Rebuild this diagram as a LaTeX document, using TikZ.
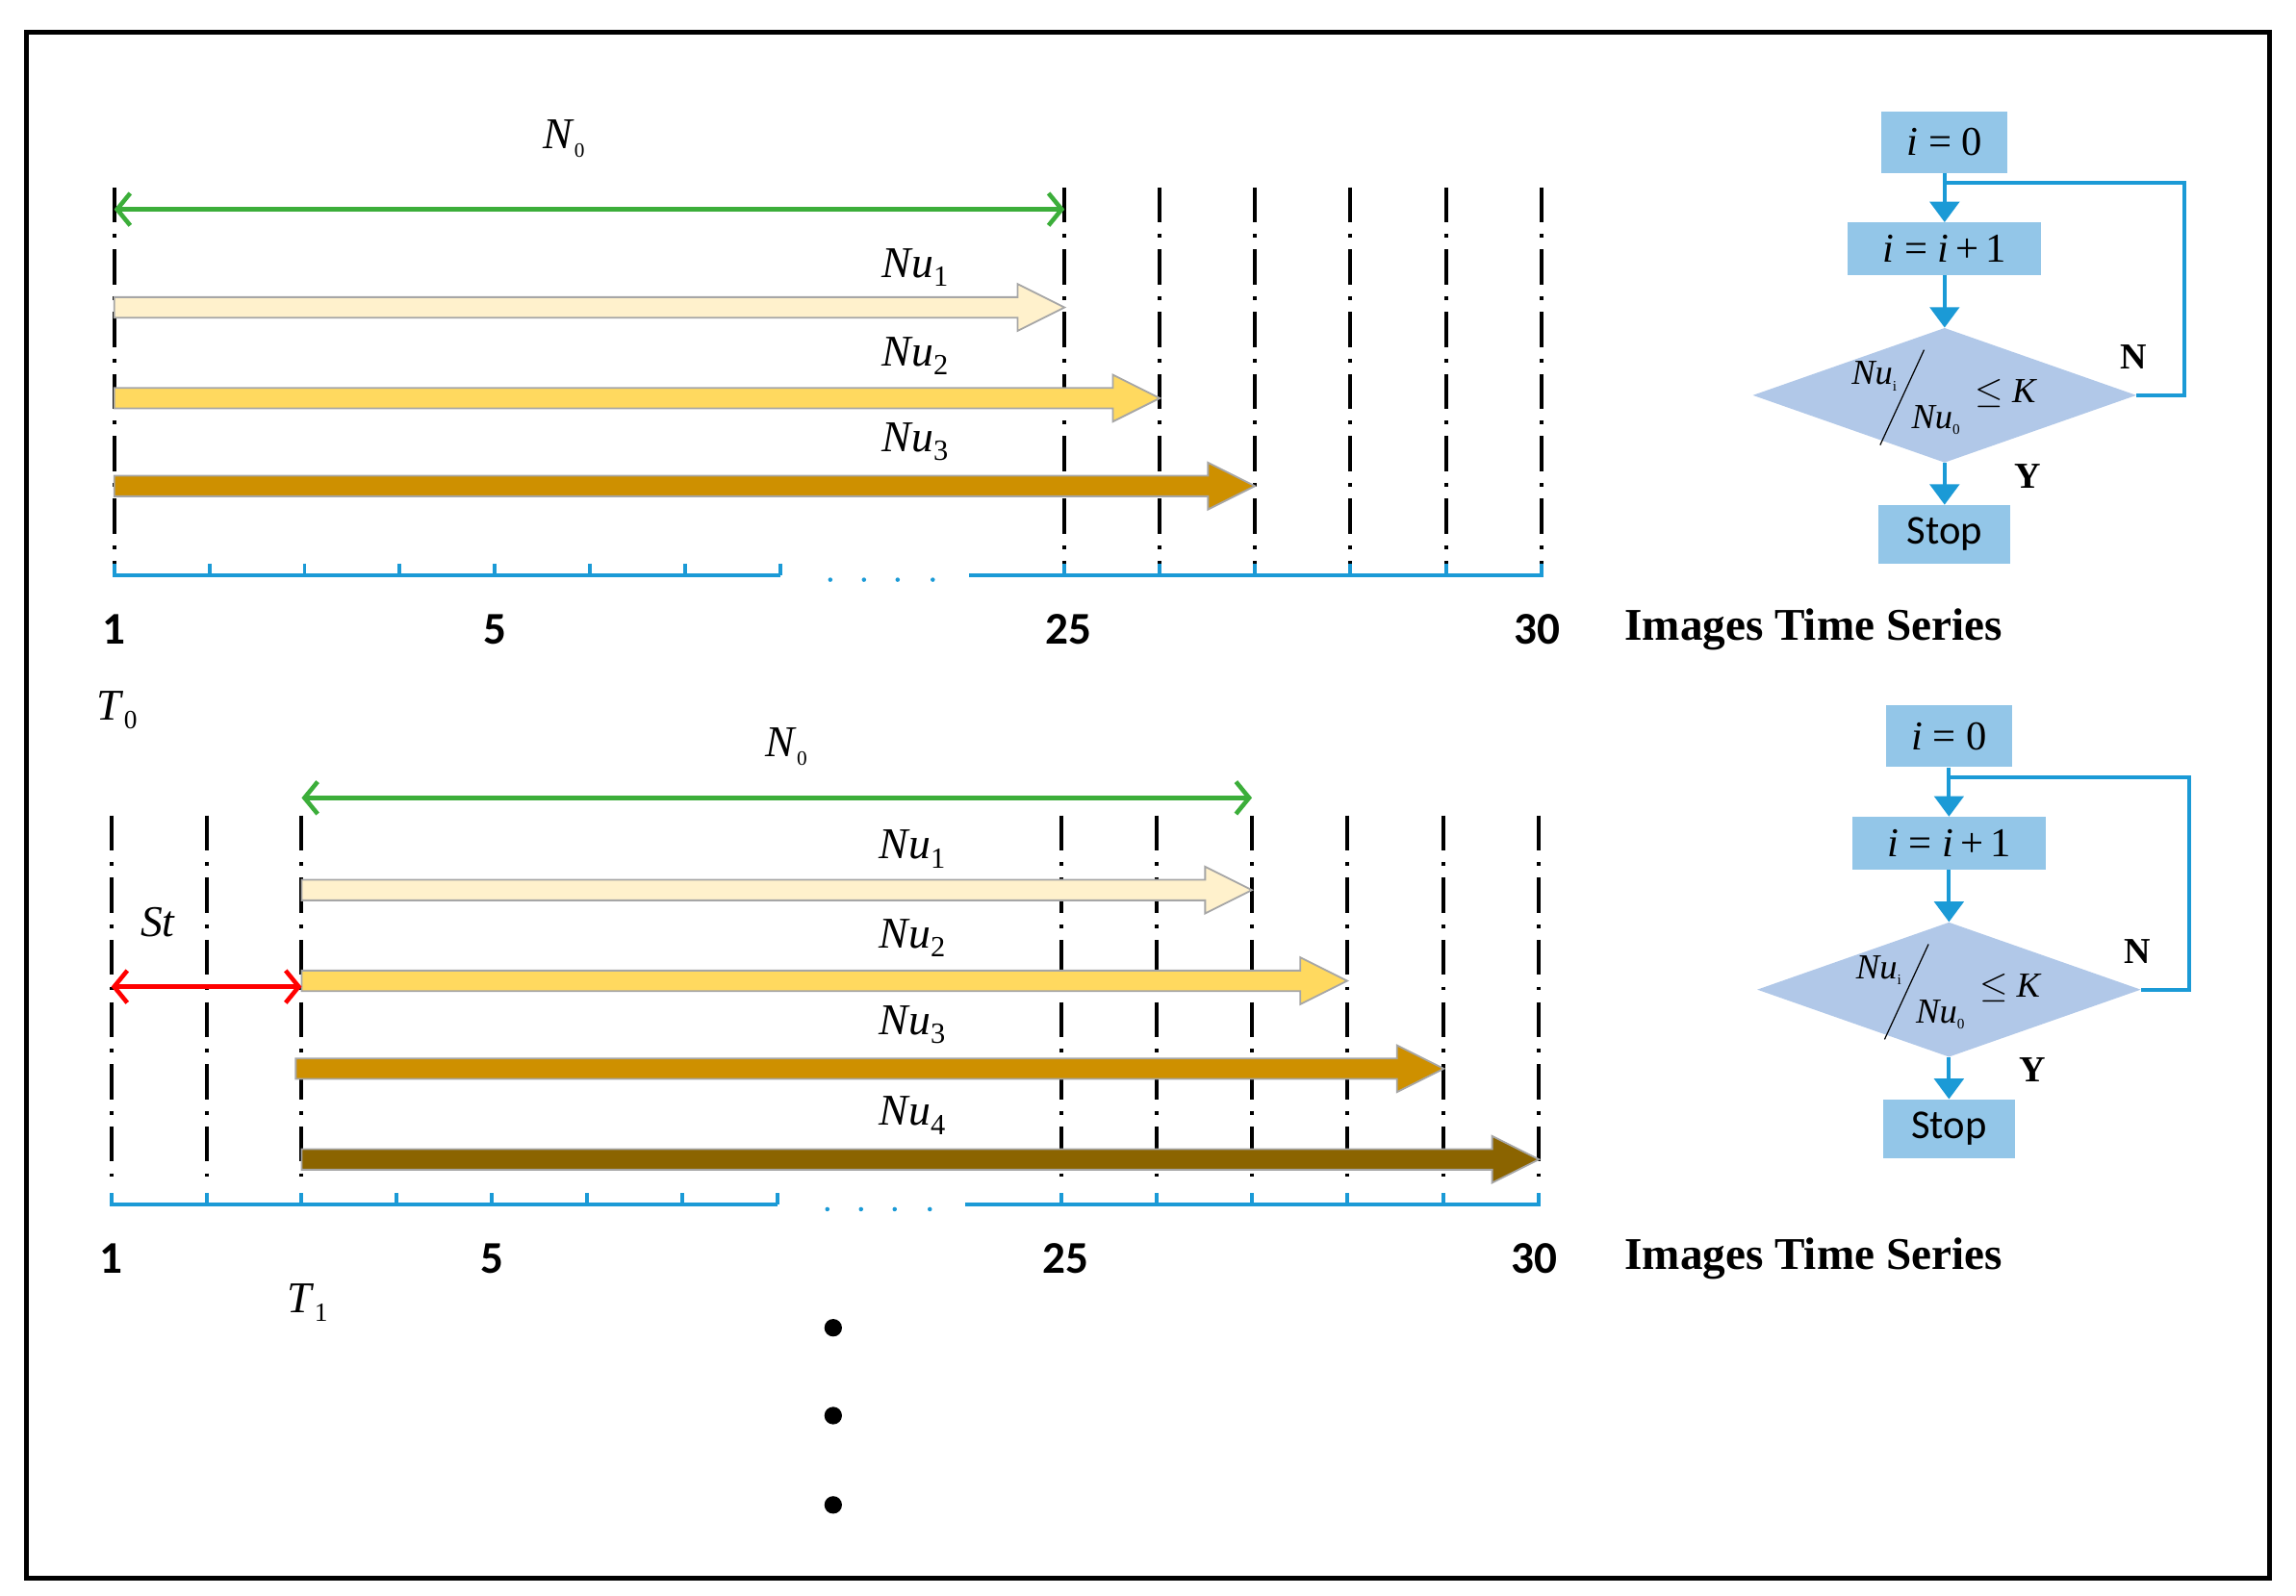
\documentclass[tikz,border=0pt]{standalone}
\usepackage{fontspec}
\setmainfont{Liberation Serif}
\newfontfamily\numf{Carlito}
\usetikzlibrary{arrows.meta,shapes.geometric}
\definecolor{axb}{HTML}{1B9AD6}
\definecolor{boxb}{HTML}{93C6E8}
\definecolor{diab}{HTML}{B1C8E8}
\definecolor{grn}{HTML}{3CAE3A}
\definecolor{cA}{HTML}{FFF1CC}
\definecolor{cB}{HTML}{FFD95F}
\definecolor{cC}{HTML}{CE9000}
\definecolor{cD}{HTML}{8B6400}
\newcommand{\barrow}[4]{%
 \fill[#4,draw=gray!70,line width=1.2pt] (#1,#3-7) -- (#2-32,#3-7) -- (#2-32,#3-16) -- (#2,#3) -- (#2-32,#3+16) -- (#2-32,#3+7) -- (#1,#3+7) -- cycle;}
\tikzset{
 dd/.style={line width=2.6pt,dash pattern=on 24pt off 8pt on 2.5pt off 8pt},
 ax/.style={axb,line width=2.6pt},
 num/.style={font=\numf\bfseries\fontsize{31}{31}\selectfont},
 its/.style={font=\bfseries\fontsize{31}{31}\selectfont,anchor=west},
 lab/.style={font=\fontsize{30}{30}\selectfont},
 dim/.style={line width=3pt,{Straight Barb[length=9pt,width=22pt]}-{Straight Barb[length=9pt,width=22pt]}},
 box/.style={fill=boxb,minimum height=#1,inner sep=0pt,font=\fontsize{28}{28}\selectfont},
 fl/.style={axb,line width=2.6pt},
 fa/.style={fl,-{Triangle[length=14pt,width=20pt]}},
 yn/.style={font=\bfseries\fontsize{25}{25}\selectfont},
}
\newcommand{\flow}[2]{%
 \begin{scope}[shift={(#1,#2)}]
 \node[box=42pt,minimum width=86pt] (a#2) at (0,0) {\textit{i} = 0};
 \node[box=36pt,minimum width=132pt] (b#2) at (0,73) {\textit{i} = \textit{i}\,+\,1};
 \node[diamond,aspect=2.85,fill=diab,minimum width=262pt,minimum height=92pt,inner sep=0pt] (c#2) at (0,173) {};
 \node[box=40pt,minimum width=90pt,font=\numf\fontsize{28}{28}\selectfont] (d#2) at (0,268) {Stop};
 \node[font=\fontsize{24}{24}\selectfont] (n1#2) at (-48,160) {\textit{Nu}\raisebox{-4pt}{\fontsize{10}{10}\selectfont i}};
 \node[font=\fontsize{24}{24}\selectfont] (n0#2) at (-6,190) {\textit{Nu}\raisebox{-4pt}{\fontsize{10}{10}\selectfont 0}};
 \draw[line width=0.8pt] (-14,142) -- (-44,207);
 \node[font=\fontsize{24}{24}\selectfont] (k#2) at (42,172) {$\leq$ \textit{K}};
 \coordinate (r#2) at (164,173);
 \coordinate (t#2) at (164,28);
 \coordinate (m#2) at (0,28);
 \draw[fa] (a#2) -- (b#2);
 \draw[fa] (b#2) -- (c#2);
 \draw[fa] (c#2) -- (d#2);
 \draw[fl] (c#2.east) -- (r#2) -- (t#2) -- (m#2);
 \node[yn] (N#2) at (129,147) {N};
 \node[yn] (Y#2) at (57,228) {Y};
 \end{scope}}
\begin{document}
\begin{tikzpicture}[x=1pt,y=-1pt]
\useasboundingbox (0,0) rectangle (1568,1090);
\draw[line width=3pt] (18,22) rectangle (1550,1078);
% ---------- top panel
\foreach \x in {78,727,792,857,922,988,1053} \draw[dd] (\x,128) -- (\x,385);
\draw[ax] (78,385) -- (78,393) -- (533,393);
\foreach \x in {143,208,273,338,403,468,533} \draw[ax] (\x,385) -- (\x,393);
\draw[ax] (662,393) -- (1053,393) -- (1053,385);
\foreach \x in {727,792,857,922,988} \draw[ax] (\x,385) -- (\x,393);
\foreach \x in {567,590,613,637} \fill[axb] (\x,396) circle (1.5pt);
\node[num] (t1) at (78,430) {1};
\node[num] (t5) at (338,430) {5};
\node[num] (t25) at (730,430) {25};
\node[num] (t30) at (1050,430) {30};
\node[its] (its1) at (1106,430) {Images Time Series};
\coordinate (g1) at (78,143); \coordinate (g2) at (727,143);
\draw[dim,grn] (g1) -- (g2);
\node[lab] (N0a) at (385,95) {\textit{N}\raisebox{-6pt}{\fontsize{14}{14}\selectfont 0}};
\barrow{78}{727}{210}{cA}
\barrow{78}{792}{272}{cB}
\barrow{78}{857}{332}{cC}
\node[lab] (u1) at (625,183) {\textit{Nu}\raisebox{-6pt}{\fontsize{20}{20}\selectfont 1}};
\node[lab] (u2) at (625,243) {\textit{Nu}\raisebox{-6pt}{\fontsize{20}{20}\selectfont 2}};
\node[lab] (u3) at (625,302) {\textit{Nu}\raisebox{-6pt}{\fontsize{20}{20}\selectfont 3}};
\node[lab] (T0) at (80,485) {\textit{T}\raisebox{-6pt}{\fontsize{18}{18}\selectfont 0}};
% ---------- bottom panel
\foreach \x in {76,141,206,725,790,855,920,986,1051} \draw[dd] (\x,557) -- (\x,805);
\draw[ax] (76,815) -- (76,823) -- (531,823);
\foreach \x in {141,206,271,336,401,466,531} \draw[ax] (\x,815) -- (\x,823);
\draw[ax] (659,823) -- (1051,823) -- (1051,815);
\foreach \x in {725,790,855,920,986} \draw[ax] (\x,815) -- (\x,823);
\foreach \x in {565,588,611,635} \fill[axb] (\x,826) circle (1.5pt);
\node[num] (b1) at (76,860) {1};
\node[num] (b5) at (336,860) {5};
\node[num] (b25) at (728,860) {25};
\node[num] (b30) at (1048,860) {30};
\node[its] (its2) at (1106,860) {Images Time Series};
\coordinate (h1) at (206,545); \coordinate (h2) at (855,545);
\draw[dim,grn] (h1) -- (h2);
\node[lab] (N0b) at (537,510) {\textit{N}\raisebox{-6pt}{\fontsize{14}{14}\selectfont 0}};
\barrow{206}{855}{608}{cA}
\barrow{206}{920}{670}{cB}
\barrow{202}{986}{730}{cC}
\barrow{206}{1051}{792}{cD}
\node[lab] (v1) at (623,580) {\textit{Nu}\raisebox{-6pt}{\fontsize{20}{20}\selectfont 1}};
\node[lab] (v2) at (623,641) {\textit{Nu}\raisebox{-6pt}{\fontsize{20}{20}\selectfont 2}};
\node[lab] (v3) at (623,700) {\textit{Nu}\raisebox{-6pt}{\fontsize{20}{20}\selectfont 3}};
\node[lab] (v4) at (623,762) {\textit{Nu}\raisebox{-6pt}{\fontsize{20}{20}\selectfont 4}};
\coordinate (s1) at (76,674); \coordinate (s2) at (206,674);
\draw[dim,red] (s1) -- (s2);
\node[lab] (St) at (108,630) {\textit{St}};
\node[lab] (T1) at (210,890) {\textit{T}\raisebox{-6pt}{\fontsize{18}{18}\selectfont 1}};
\foreach \y in {907,967,1028} \fill (569,\y) circle (6pt);
% ---------- flowcharts
\flow{1328}{97}
\flow{1331}{503}
\end{tikzpicture}
\end{document}
